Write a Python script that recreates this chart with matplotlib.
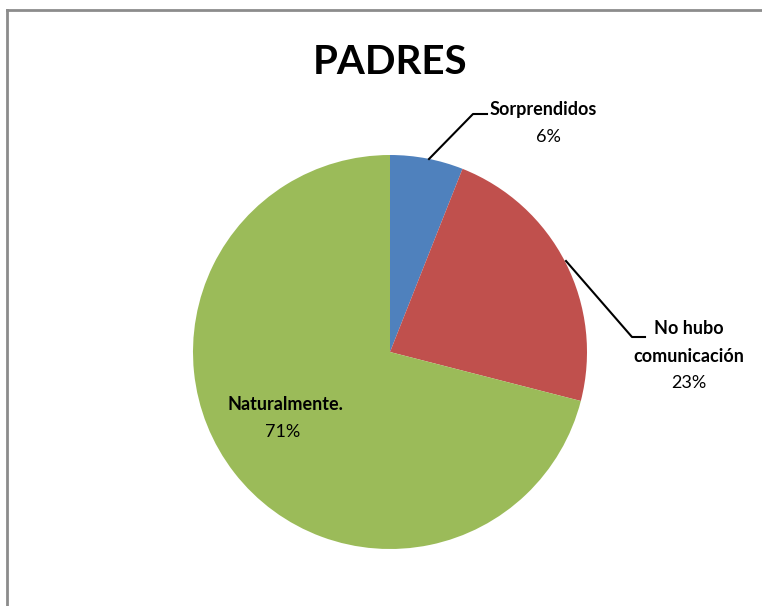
import matplotlib.pyplot as plt
from matplotlib.lines import Line2D

# data
labels = ['Sorprendidos', 'No hubo\ncomunicación', 'Naturalmente.']
values = [6, 23, 71]
colors = ['#4F81BD', '#C0504D', '#9BBB59']

W, H = 762, 606
plt.rcParams['font.family'] = ['Lato', 'DejaVu Sans']

fig = plt.figure(figsize=(W / 100, H / 100), dpi=100)
ax = fig.add_axes([0, 0, 1, 1])

# pie (y axis is inverted, so counterclock=True draws it clockwise on screen)
cx, cy, r = 390, 352, 197
ax.pie(values, colors=colors, startangle=-90, counterclock=True,
       center=(cx, cy), radius=r, frame=True,
       wedgeprops=dict(linewidth=0))
ax.set_xlim(0, W)
ax.set_ylim(H, 0)
ax.set_aspect('equal')
ax.axis('off')

# chart frame (cut off at right and bottom)
ax.add_line(Line2D([7, W], [10, 10], color='#8c8c8c', lw=2))
ax.add_line(Line2D([7, 7], [10, H], color='#8c8c8c', lw=2))

ax.text(390, 62, 'PADRES', ha='center', va='center', fontsize=29, fontweight='bold')

# leader lines
ax.add_line(Line2D([429, 473, 487], [159, 114, 114], color='black', lw=1.5))
ax.add_line(Line2D([566, 632, 645], [261, 337, 337], color='black', lw=1.5))

lab_fs = 13
ax.text(543, 110, labels[0], ha='center', va='center', fontsize=lab_fs, fontweight='bold')
ax.text(548, 137, f'{values[0]}%', ha='center', va='center', fontsize=lab_fs)
line1, line2 = labels[1].split('\n')
ax.text(689, 329, line1, ha='center', va='center', fontsize=lab_fs, fontweight='bold')
ax.text(689, 356, line2, ha='center', va='center', fontsize=lab_fs, fontweight='bold')
ax.text(689, 383, f'{values[1]}%', ha='center', va='center', fontsize=lab_fs)
ax.text(285, 404, labels[2], ha='center', va='center', fontsize=lab_fs, fontweight='bold')
ax.text(283, 432, f'{values[2]}%', ha='center', va='center', fontsize=lab_fs)

fig.savefig('out.png', dpi=100)
